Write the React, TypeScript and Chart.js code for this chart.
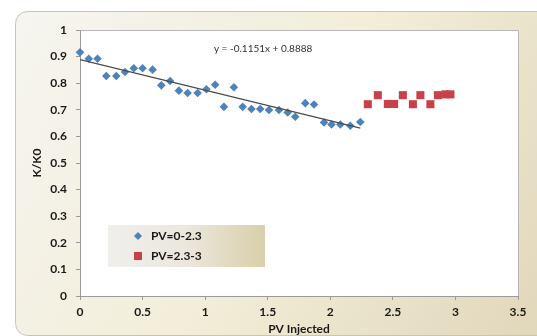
import React, { useEffect, useRef } from "react";
import { Chart, registerables } from "chart.js";

Chart.register(...registerables);

const BLUE_X = [0, 0.07, 0.14, 0.21, 0.29, 0.36, 0.43, 0.5, 0.58, 0.65, 0.72, 0.79, 0.86, 0.94, 1.01, 1.08, 1.15, 1.23, 1.3, 1.37, 1.44, 1.51, 1.59, 1.66, 1.72, 1.8, 1.87, 1.95, 2.01, 2.08, 2.16, 2.24];
const BLUE_Y = [0.916, 0.892, 0.892, 0.827, 0.827, 0.842, 0.856, 0.856, 0.851, 0.792, 0.808, 0.772, 0.763, 0.763, 0.777, 0.794, 0.711, 0.785, 0.711, 0.703, 0.703, 0.699, 0.699, 0.69, 0.674, 0.725, 0.72, 0.652, 0.645, 0.645, 0.64, 0.654];
const RED_X = [2.3, 2.38, 2.46, 2.51, 2.58, 2.66, 2.72, 2.8, 2.86, 2.92, 2.96];
const RED_Y = [0.721, 0.755, 0.722, 0.722, 0.755, 0.721, 0.755, 0.721, 0.755, 0.758, 0.758];
const SERIES_LABELS = ["PV=0-2.3", "PV=2.3-3"];
const TREND_SLOPE = -0.1151;
const TREND_INTERCEPT = 0.8888;
const TREND_X = [0, 2.24];
const TREND_LABEL = "y = -0.1151x + 0.8888";
const X_TITLE = "PV Injected";
const Y_TITLE = "K/K0";

const BLUE = "#4f81bd";
const RED = "#c8414a";
const FONT = "Lato";

const backgroundPlugin = {
  id: "bgFrame",
  beforeDraw(chart: any) {
    const { ctx, width, height, chartArea } = chart;
    ctx.save();
    ctx.fillStyle = "#ffffff";
    ctx.fillRect(0, 0, width, height);
    const x0 = 15.5, y0 = 11.5, x1 = width + 20, y1 = height - 0.5, r = 12;
    ctx.beginPath();
    ctx.moveTo(x0 + r, y0);
    ctx.lineTo(x1, y0);
    ctx.lineTo(x1, y1);
    ctx.lineTo(x0 + r, y1);
    ctx.arcTo(x0, y1, x0, y1 - r, r);
    ctx.lineTo(x0, y0 + r);
    ctx.arcTo(x0, y0, x0 + r, y0, r);
    ctx.closePath();
    const g = ctx.createLinearGradient(x0, y0, width, height);
    g.addColorStop(0, "#f6f5f0");
    g.addColorStop(0.5, "#f2eed9");
    g.addColorStop(1, "#e1d7bb");
    ctx.fillStyle = g;
    ctx.fill();
    ctx.strokeStyle = "#c4c4c4";
    ctx.lineWidth = 1;
    ctx.stroke();
    ctx.fillStyle = "#ffffff";
    ctx.fillRect(chartArea.left, chartArea.top, chartArea.right - chartArea.left, chartArea.bottom - chartArea.top);
    ctx.strokeStyle = "#b8b8b8";
    ctx.beginPath();
    ctx.moveTo(chartArea.left, chartArea.top + 0.5);
    ctx.lineTo(chartArea.right + 0.5, chartArea.top + 0.5);
    ctx.lineTo(chartArea.right + 0.5, chartArea.bottom);
    ctx.stroke();
    ctx.restore();
  },
  afterDraw(chart: any) {
    const { ctx } = chart;
    const xs = chart.scales.x;
    const ys = chart.scales.y;
    ctx.save();
    ctx.font = `10px ${FONT}`;
    ctx.fillStyle = "#333333";
    ctx.textAlign = "left";
    ctx.textBaseline = "middle";
    ctx.fillText(TREND_LABEL, xs.getPixelForValue(1.07), ys.getPixelForValue(0.93));
    const lx = 108, ly = 225, lw = 157, lh = 42;
    const g = ctx.createLinearGradient(lx, 0, lx + lw, 0);
    g.addColorStop(0, "#f0efec");
    g.addColorStop(0.5, "#ebe7dc");
    g.addColorStop(1, "#d9cfab");
    ctx.fillStyle = g;
    ctx.fillRect(lx, ly, lw, lh);
    const dx = 138, dy = 236;
    ctx.fillStyle = BLUE;
    ctx.beginPath();
    ctx.moveTo(dx, dy - 4);
    ctx.lineTo(dx + 4, dy);
    ctx.lineTo(dx, dy + 4);
    ctx.lineTo(dx - 4, dy);
    ctx.closePath();
    ctx.fill();
    ctx.fillStyle = RED;
    ctx.fillRect(134, 252, 8, 8);
    ctx.font = `bold 12px ${FONT}`;
    ctx.fillStyle = "#1a1a1a";
    ctx.fillText(SERIES_LABELS[0], 151, 236);
    ctx.fillText(SERIES_LABELS[1], 151, 256);
    ctx.restore();
  },
};

export default function App() {
  const ref = useRef<HTMLCanvasElement | null>(null);
  useEffect(() => {
    if (!ref.current) return;
    const blue = BLUE_X.map((x, i) => ({ x, y: BLUE_Y[i] }));
    const red = RED_X.map((x, i) => ({ x, y: RED_Y[i] }));
    const trend = TREND_X.map((x) => ({ x, y: TREND_INTERCEPT + TREND_SLOPE * x }));
    const tickFont = { family: FONT, size: 12, weight: "bold" as const };
    const chart = new Chart(ref.current, {
      type: "scatter",
      data: {
        datasets: [
          {
            type: "line",
            label: "trend",
            data: trend,
            borderColor: "#4a4a4a",
            borderWidth: 1.2,
            pointRadius: 0,
            fill: false,
          } as any,
          {
            label: SERIES_LABELS[0],
            data: blue,
            pointStyle: "rectRot",
            pointRadius: 4.3,
            backgroundColor: BLUE,
            borderColor: BLUE,
            borderWidth: 0,
            clip: false,
          } as any,
          {
            label: SERIES_LABELS[1],
            data: red,
            pointStyle: "rect",
            pointRadius: 5.7,
            backgroundColor: RED,
            borderColor: RED,
            borderWidth: 0,
            clip: false,
          } as any,
        ],
      },
      options: {
        responsive: false,
        animation: false,
        layout: { padding: { left: 0, top: 30, right: 19, bottom: 0 } },
        plugins: { legend: { display: false }, tooltip: { enabled: false } },
        scales: {
          x: {
            type: "linear",
            min: 0,
            max: 3.5,
            afterFit: (s: any) => { s.height = 40; },
            ticks: { stepSize: 0.5, font: tickFont, color: "#1a1a1a", padding: 5, maxRotation: 0,
              callback: (v: any) => String(Math.round(Number(v) * 10) / 10) },
            grid: { drawOnChartArea: false, drawTicks: true, tickLength: 4, color: "#9a9a9a" },
            border: { color: "#9a9a9a" },
            title: { display: true, text: X_TITLE, font: { family: FONT, size: 12, weight: "bold" }, color: "#1a1a1a", padding: { top: 0, bottom: 0 } },
          },
          y: {
            type: "linear",
            min: 0,
            max: 1,
            afterFit: (s: any) => { s.width = 80; },
            ticks: { stepSize: 0.1, font: tickFont, color: "#1a1a1a", padding: 9,
              callback: (v: any) => String(Math.round(Number(v) * 10) / 10) },
            grid: { drawOnChartArea: false, drawTicks: true, tickLength: 4, color: "#9a9a9a" },
            border: { color: "#9a9a9a" },
            title: { display: true, text: Y_TITLE, font: { family: FONT, size: 12, weight: "bold" }, color: "#1a1a1a", padding: { top: 30, bottom: 0 } },
          },
        },
      },
      plugins: [backgroundPlugin],
    });
    return () => chart.destroy();
  }, []);
  return (
    <div style={{ position: "absolute", left: 0, top: 0, width: 537, height: 336 }}>
      <canvas ref={ref} width={537} height={336} />
    </div>
  );
}
